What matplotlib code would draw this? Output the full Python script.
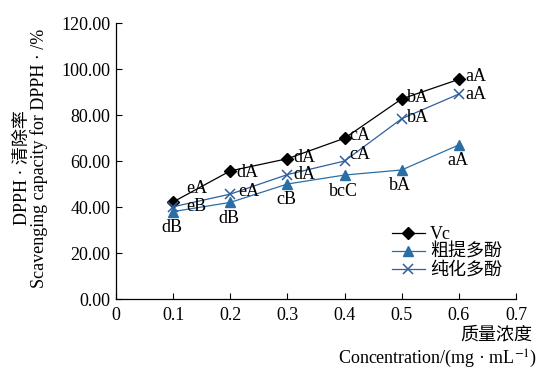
import numpy as np
import matplotlib
matplotlib.use("Agg")
from matplotlib import pyplot as plt

plt.rcParams['font.family'] = ['Liberation Serif', 'Noto Sans CJK SC']
plt.rcParams['mathtext.fontset'] = 'stix'

# data
conc = [0.1, 0.2, 0.3, 0.4, 0.5, 0.6]
vc = [42.2, 55.7, 61.0, 69.9, 87.0, 95.5]
crude = [38.0, 42.0, 50.0, 53.9, 56.1, 67.0]
pure = [40.1, 45.6, 54.1, 60.0, 78.4, 89.1]

vc_sig = ["eA", "dA", "dA", "cA", "bA", "aA"]
crude_sig = ["dB", "dB", "cB", "bcC", "bA", "aA"]
pure_sig = ["eB", "eA", "dA", "cA", "bA", "aA"]

xticks = [0, 0.1, 0.2, 0.3, 0.4, 0.5, 0.6, 0.7]
yticks = [0, 20, 40, 60, 80, 100, 120]

W, H = 540, 373
fig = plt.figure(figsize=(W / 100, H / 100), dpi=100)
ax = fig.add_axes([116 / W, 1 - 299 / H, 400 / W, 276 / H])

c_crude = "#2a6ea6"
c_pure = "#2f5f9f"

ax.plot(conc, vc, color="black", lw=0.9, marker="D", ms=6.5, label="Vc")
ax.plot(conc, crude, color=c_crude, lw=0.9, marker="^", ms=7, label="粗提多酚")
ax.plot(conc, pure, color=c_pure, lw=0.9, marker="x", ms=7, mew=1.1, label="纯化多酚")

fs = 13
# significance letters (offsets in points)
vc_off = [(17, 10), (12, -1), (12, 1), (11, 2), (12, 1), (12, 2)]
pure_off = [(17, 0), (13, 2), (12, 0), (11, 5), (12, 1), (12, 0)]
for i in range(len(conc)):
    ax.annotate(vc_sig[i], (conc[i], vc[i]), xytext=vc_off[i], textcoords="offset points",
                ha="center", va="center", fontsize=fs)
    ax.annotate(pure_sig[i], (conc[i], pure[i]), xytext=pure_off[i], textcoords="offset points",
                ha="center", va="center", fontsize=fs)
    ax.annotate(crude_sig[i], (conc[i], crude[i]), xytext=(-1, -11.5), textcoords="offset points",
                ha="center", va="center", fontsize=fs)

ax.set_xlim(0, 0.7)
ax.set_ylim(0, 120)
ax.set_xticks(xticks)
ax.set_xticklabels(["0", "0.1", "0.2", "0.3", "0.4", "0.5", "0.6", "0.7"])
ax.set_yticks(yticks)
ax.set_yticklabels(["{:.2f}".format(v) for v in yticks])
ax.tick_params(direction="in", length=4, width=0.8, labelsize=fs, pad=4)
ax.tick_params(axis="x", pad=5.5)
ax.spines["top"].set_visible(False)
ax.spines["right"].set_visible(False)
for s in ["left", "bottom"]:
    ax.spines[s].set_linewidth(0.9)

ax.legend(loc="upper left", bbox_to_anchor=(392 / W, 1 - 226 / H), bbox_transform=fig.transFigure,
          frameon=False, fontsize=fs, borderpad=0, borderaxespad=0, handlelength=1.8,
          handletextpad=0.3, labelspacing=0.05)

fig.text(532 / W, 1 - 335 / H, "质量浓度", ha="right", va="center", fontsize=fs)
fig.text(537 / W, 1 - 359 / H, "Concentration/(mg · mL$^{-1}$)", ha="right", va="center", fontsize=fs)
fig.text(22 / W, 1 - 168 / H, "DPPH · 清除率", rotation=90, ha="center", va="center", fontsize=fs)
fig.text(39 / W, 1 - 158 / H, "Scavenging capacity for DPPH · /%", rotation=90,
         ha="center", va="center", fontsize=fs)

fig.savefig("out.png", dpi=100)
